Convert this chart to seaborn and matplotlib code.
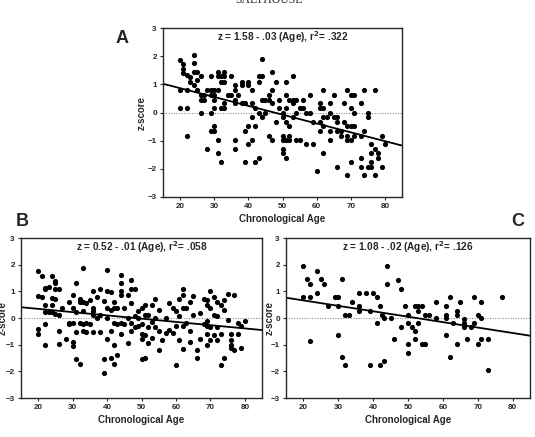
import matplotlib
matplotlib.use("Agg")
import matplotlib.pyplot as plt
import seaborn as sns

# Panel A: ages and z-scores
ages_a = [20, 20, 20, 21, 21, 21, 22, 22, 22, 22, 23, 23,
          24, 24, 24, 24, 25, 25, 25, 26, 26, 26, 26, 27, 27, 28, 28,
          29, 29, 29, 29, 29, 30, 30, 30, 30, 30, 30, 31, 31, 31, 31, 31,
          32, 32, 32, 32, 33, 33, 33, 33, 33, 34, 35, 35,
          36, 36, 36, 36, 36, 36, 37, 38, 38, 38, 39, 39, 39,
          40, 40, 40, 40, 41, 41, 41, 41, 42, 42, 42, 43, 43, 43, 43,
          44, 44, 44, 44, 45, 45, 46, 46, 46, 47, 47, 47, 47, 48, 48, 49, 49,
          50, 50, 50, 50, 50, 50, 51, 51, 51, 51, 51, 51, 52, 52, 52, 52,
          53, 53, 53, 53, 54, 54, 54, 55, 55, 56, 56, 57, 57, 58, 58, 59, 59, 60,
          61, 61, 61, 61, 62, 62, 62, 62, 62, 63, 64, 64, 64, 64, 65, 65,
          66, 66, 66, 66, 67, 67, 68, 68, 69, 69, 69, 69, 69,
          70, 70, 70, 70, 70, 71, 71, 71, 71, 73, 73, 73, 73,
          74, 74, 74, 75, 75, 75, 76, 76, 76, 76, 77, 77, 77, 78, 78, 79, 79, 80]
z_a = [1.88, 0.80, 0.15, 1.72, 1.55, 1.41, 1.32, 0.80, 0.15, -0.82, 1.26, 1.08,
       2.04, 1.76, 1.44, 0.97, 1.44, 1.14, 0.80, 1.28, 0.62, 0.44, 0.00, 0.44, 0.62, 0.80, -1.28,
       0.80, 0.62, 0.00, -0.64, 1.28, 0.80, 0.62, 0.15, -0.64, -0.49, 0.44, 1.44, 1.28, 0.80, -0.98, -1.45,
       1.28, 1.10, 0.15, -1.77, 1.44, 1.28, 1.10, 0.32, 0.15, 0.62, 1.28, 0.62,
       0.97, 0.80, 0.44, 0.32, -0.98, -1.28, 0.62, 1.10, 0.97, 0.32, 0.32, -0.64, -1.77,
       1.10, 0.97, -0.49, -1.11, 0.80, 0.32, -0.17, -0.98, 0.15, -0.49, -1.77, 1.28, 1.10, 0.00, -1.60,
       1.90, 1.28, 0.44, -0.17, 0.44, 0.00, 0.62, 0.44, -0.82, 1.44, 0.80, 0.32, -0.98, 1.10, -0.32, 0.44, 0.15,
       -0.82, -0.98, -1.28, -1.45, 0.00, -0.17, 1.10, 0.62, 0.15, -0.98, -1.60, -0.32, 0.44, -0.49, -0.82, -0.98,
       1.28, 0.44, 0.32, -0.17, 0.44, 0.00, -0.98, 0.15, -0.98, 0.44, 0.15, 0.00, -1.11, 0.62, 0.00, -0.32, -1.11, -2.07,
       0.32, 0.15, -0.32, -0.64, 0.80, 0.15, -0.17, -0.49, -1.45, -0.17, 0.32, 0.00, -0.64, -0.98, 0.62, -0.17,
       -0.17, -0.32, -0.64, -1.93, -0.64, -0.82, 0.32, -0.32, 0.80, -0.49, -0.82, -0.98, -2.23,
       0.62, 0.15, -0.49, -0.98, -1.77, 0.62, 0.00, -0.49, -0.82, 0.32, -0.82, -1.60, -1.93,
       -0.64, -2.23, 0.80, -0.17, 0.00, -1.93, -1.11, -1.93, -1.77, -1.45, 0.80, -2.23, -1.28, -1.45, -1.60, -0.82, -1.93, -1.11]

# Panel B
ages_b = [20, 20, 20, 20, 21, 21, 22, 22, 22, 22, 22, 22, 23, 23, 24, 24, 24, 24,
          25, 25, 25, 25, 25, 26, 26, 26, 26, 27, 28, 29, 29, 29,
          30, 30, 30, 30, 30, 31, 31, 31, 31, 32, 32, 32, 32, 33, 33, 33, 33, 33,
          34, 34, 34, 35, 35, 36, 36, 36, 36, 36, 37, 37, 38, 38, 38, 39, 39, 39,
          40, 40, 40, 40, 40, 41, 41, 41, 41, 42, 42, 42, 42, 42, 43, 43, 43,
          44, 44, 44, 44, 44, 44, 45, 45, 46, 46, 46, 47, 47, 47, 47, 47,
          48, 48, 48, 49, 49, 49, 50, 50, 50, 50, 50, 51, 51, 51, 51,
          52, 52, 52, 53, 53, 53, 54, 54, 54, 55, 55, 55, 56, 57, 57, 58, 58, 59, 59,
          60, 60, 60, 61, 61, 61, 62, 62, 62, 62, 62, 63, 63, 64, 64, 64, 65, 65,
          66, 66, 67, 67, 68, 68, 69, 69, 69, 69, 69, 69, 70, 70, 70, 70,
          71, 71, 71, 72, 72, 72, 72, 73, 73, 73, 74, 74, 74, 75, 75,
          76, 76, 76, 76, 77, 77, 78, 78, 79, 79, 80]
z_b = [1.77, 0.81, -0.41, -0.59, 1.57, 0.79, 1.11, 1.09, 0.49, 0.22, -0.23, -1.01, 1.15, 0.22, 1.59, 0.75, 0.49, 0.22,
       1.37, 1.33, 1.09, 0.73, 0.16, 1.09, 0.10, -0.49, -0.98, 0.37, -0.80, 0.59, -0.17, -0.23,
       0.85, 0.37, -0.17, -0.89, -1.04, 1.31, 0.23, -0.53, -1.54, 0.73, 0.61, -0.17, -1.72, 1.87, 0.61, 0.25, -0.23, -0.47,
       0.57, -0.17, -0.53, 0.69, -0.23, 1.03, 0.37, 0.25, 0.13, -0.53, 0.79, 0.01, 1.09, 0.13, -0.53, 0.63, -1.54, -2.06,
       1.81, 1.03, 0.37, 0.01, -0.80, 0.97, 0.31, -0.47, -1.49, 0.61, 0.37, -0.17, -1.01, -1.72, 0.37, -0.23, -1.39,
       1.63, 1.31, 1.03, 0.85, -0.17, -0.59, 0.37, -0.23, 0.87, 0.01, -0.95, 1.41, 1.09, 0.57, -0.17, -0.47,
       1.09, 0.07, -0.35, 0.25, 0.01, -0.29, 0.37, -0.23, -0.59, -0.77, -1.52, 0.49, 0.13, -0.62, -1.49,
       0.11, -0.35, -0.95, 0.49, -0.14, -0.74, 0.73, 0.01, -0.35, 0.31, -0.47, -1.19, -0.83, 0.01, -0.56, 0.55, -0.44, 0.37, -0.56,
       0.25, -0.30, -1.78, 0.71, 0.07, -0.83, 1.09, 0.85, 0.37, -0.30, -1.16, 0.37, -0.17, 0.61, -0.47, -0.89, 0.81, 0.13,
       -1.19, -1.49, 0.19, -0.77, 0.73, -0.23, 0.67, 0.49, -0.11, -0.29, -0.59, -1.01, 1.03, 0.37, -0.35, -0.83,
       0.79, 0.13, -0.65, 0.61, 0.07, -0.35, -0.83, 0.49, -0.59, -1.76, 0.67, 0.31, -1.49, 0.91, -0.08,
       -0.59, -0.83, -1.01, -1.13, 0.87, -1.19, -0.17, -0.59, -0.29, -1.13, -0.11]

# Panel C
ages_c = [20, 20, 21, 22, 22, 22, 24, 24, 25, 26, 27, 29, 30, 30, 30, 31, 31, 32, 32, 33, 34,
          36, 36, 36, 38, 39, 39, 40, 41, 41, 42, 42, 42.5, 43, 43, 44, 44, 45, 46, 47, 48, 48, 49,
          50, 50, 50, 50, 51, 52, 52, 52, 53, 53, 53, 54, 54, 55, 55, 56, 58, 58,
          61, 61, 61, 61, 62, 62, 63, 64, 64, 64, 65, 66, 66, 66, 67, 68, 69, 69,
          70, 70, 71, 71, 71, 73, 73, 77]
z_c = [1.94, 0.78, 1.46, 1.28, 0.78, -0.88, 1.78, 0.94, 1.46, 1.28, 0.44, 0.78, 0.78, 0.44, -0.65, 1.46, -1.45, -1.78, 0.12, 0.12, 0.60,
       0.94, 0.44, 0.28, 0.94, 0.28, -1.78, 0.94, 0.78, -0.20, 0.44, -1.78, 0.12, -1.62, 0.00, 1.28, 1.94, 0.00, -0.80, 1.44, 1.10, -0.35, 0.45,
       0.12, -0.98, -1.30, -0.20, -0.35, -0.50, 0.45, -0.80, 0.45, 0.28, -0.20, 0.45, -0.98, 0.10, -0.98, 0.12, 0.60, 0.00,
       0.45, 0.12, 0.00, -0.65, 0.78, -1.45, -0.20, 0.28, 0.12, -0.98, 0.60, -0.05, -0.20, -0.35, -0.80, -0.35, 0.78, -0.20,
       0.12, -0.98, 0.60, 0.00, -0.80, -0.80, -1.94, 0.78]

equations = ["z = 1.58 - .03 (Age), r$^{\\mathbf{2}}$= .322",
             "z = 0.52 - .01 (Age), r$^{\\mathbf{2}}$= .058",
             "z = 1.08 - .02 (Age), r$^{\\mathbf{2}}$= .126"]
age_ticks = [20, 30, 40, 50, 60, 70, 80]
z_ticks = [-3, -2, -1, 0, 1, 2, 3]

sns.set_style("ticks")
plt.rcParams['font.family'] = ['Liberation Sans', 'DejaVu Sans']
plt.rcParams['mathtext.default'] = 'bf'

fig = plt.figure(figsize=(5.35, 4.37), dpi=100)
ax_a = fig.add_axes([0.3047, 0.5492, 0.4467, 0.3867])
ax_b = fig.add_axes([0.0393, 0.0892, 0.4505, 0.3661])
ax_c = fig.add_axes([0.5346, 0.0892, 0.4561, 0.3661])


def draw_panel(ax, ages, z, eq, ylab_x):
    ax.set_xlim(15, 85)
    ax.set_ylim(-3, 3)
    ax.axhline(0, color='0.45', lw=0.7, ls=':', zorder=1)
    sns.regplot(x=ages, y=z, ax=ax, ci=None, truncate=False,
                scatter_kws=dict(s=14, color='black', linewidths=0, alpha=1),
                line_kws=dict(color='black', lw=1.3))
    ax.set_xlim(15, 85)
    ax.set_ylim(-3, 3)
    ax.set_xticks(age_ticks)
    ax.set_yticks(z_ticks)
    ax.tick_params(labelsize=5.8, length=2.5, width=0.8, pad=2)
    for lab in ax.get_xticklabels() + ax.get_yticklabels():
        lab.set_fontweight('bold')
    for sp in ax.spines.values():
        sp.set_linewidth(1.0)
        sp.set_visible(True)
    ax.set_xlabel("Chronological Age", fontsize=7, fontweight='bold', labelpad=3)
    ax.set_ylabel("z-score", fontsize=7, fontweight='bold', va='center')
    ax.yaxis.set_label_coords(ylab_x, 0.5)
    ax.text(0.5, 0.945, eq, transform=ax.transAxes, ha='center', va='center',
            fontsize=7.2, fontweight='bold')


draw_panel(ax_a, ages_a, z_a, equations[0], -0.088)
draw_panel(ax_b, ages_b, z_b, equations[1], -0.075)
draw_panel(ax_c, ages_c, z_c, equations[2], -0.068)

fig.text(0.228, 0.913, "A", fontsize=13, fontweight='bold', ha='center', va='center')
fig.text(0.041, 0.492, "B", fontsize=13, fontweight='bold', ha='center', va='center')
fig.text(0.968, 0.492, "C", fontsize=13, fontweight='bold', ha='center', va='center')
fig.text(0.502, 1.0, "SALTHOUSE", fontsize=8.5, family='Liberation Serif',
         ha='center', va='center')

fig.savefig("out.png", dpi=100)
